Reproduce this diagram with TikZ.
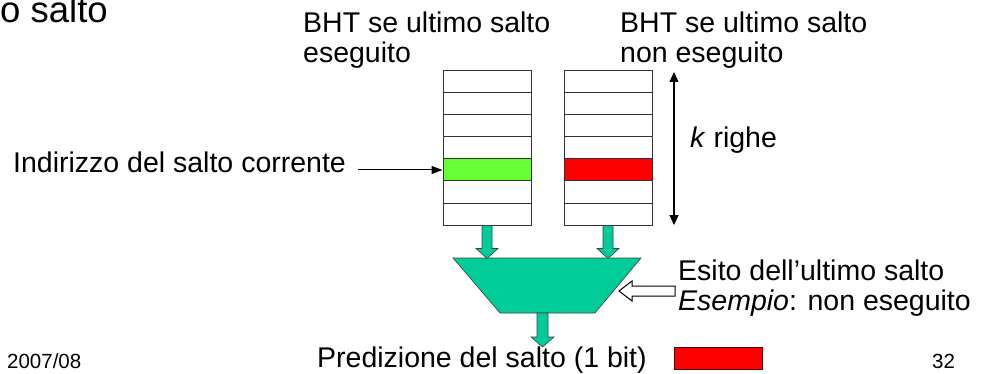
\documentclass[tikz,border=0pt]{standalone}
\usepackage{fontspec}
\setmainfont{Liberation Sans}
\usetikzlibrary{arrows.meta}

\definecolor{hitgreen}{RGB}{102,255,51}
\definecolor{missred}{RGB}{255,0,0}
\definecolor{muxteal}{RGB}{0,204,153}

\tikzset{
  bigtext/.style={font=\fontsize{28.5}{30}\selectfont, inner sep=0pt, anchor=base west, align=left},
  smalltext/.style={font=\fontsize{20.5}{24}\selectfont, inner sep=0pt, anchor=base west},
  bhtrow/.style={draw=black!80, line width=1pt, minimum width=88pt, minimum height=22pt, inner sep=0pt},
  fatarrow/.style={draw=black!75, line width=0.6pt, fill=muxteal},
}

\begin{document}
\begin{tikzpicture}[x=1pt, y=-1pt]
  \useasboundingbox (0,0) rectangle (987,374);

  % Texts (two-line nodes sit on the baseline of their last line)
  \node[bigtext, font=\fontsize{36.5}{40}\selectfont] (title) at (0,23) {o salto};
  \node[bigtext] (lefthead) at (303,63) {BHT se ultimo salto\\eseguito};
  \node[bigtext] (righthead) at (620,63) {BHT se ultimo salto\\non eseguito};
  \node[bigtext] (addr) at (13,173) {Indirizzo del salto corrente};
  \node[bigtext] (krows) at (690,148) {\textit{k} righe};
  \node[bigtext] (outcome) at (678,310) {Esito dell’ultimo salto\\\textit{Esempio}: non eseguito};
  \node[bigtext] (predtext) at (317,367) {Predizione del salto (1 bit)};
  \node[smalltext] (year) at (7,368) {2007/08};
  \node[smalltext] (page) at (932,368) {32};

  % BHT tables
  \foreach \i/\lf/\rf in {1/white/white, 2/white/white, 3/white/white, 4/white/white,
                          5/hitgreen/missred, 6/white/white, 7/white/white} {
    \node[bhtrow, fill=\lf] (L\i) at (487,60+22*\i) {};
    \node[bhtrow, fill=\rf] (R\i) at (608,60+22*\i) {};
  }

  % Current address
  \draw[-{Triangle[length=11pt,width=8pt]}, line width=1pt]
    ([xshift=12pt]addr.east |- L5.west) -- (L5.west);

  % k rows
  \coordinate (ktop) at (674,72);
  \coordinate (kbot) at (674,225);
  \draw[{Triangle[length=10pt,width=9pt]}-{Triangle[length=10pt,width=9pt]}, line width=1.2pt]
    (ktop) -- (kbot);

  % Multiplexer
  \coordinate (muxtl) at (453,258);
  \coordinate (muxtr) at (641,258);
  \coordinate (muxbr) at (595,313);
  \coordinate (muxbl) at (500,313);
  \draw[fatarrow] (muxtl) -- (muxtr) -- (muxbr) -- (muxbl) -- cycle;

  % Fat arrows
  \draw[fatarrow] ([xshift=-5pt]L7.south) -- ++(0,23) -- ++(-6,0) -- ++(11,10)
    -- ++(11,-10) -- ++(-6,0) -- ++(0,-23) -- cycle;
  \draw[fatarrow] ([xshift=-5pt]R7.south) -- ++(0,23) -- ++(-6,0) -- ++(11,10)
    -- ++(11,-10) -- ++(-6,0) -- ++(0,-23) -- cycle;
  \draw[fatarrow] (537,313) -- ++(0,24) -- ++(-6,0) -- ++(11.5,10)
    -- ++(11.5,-10) -- ++(-6,0) -- ++(0,-24) -- cycle;

  % Outcome arrow
  \draw[line width=1pt, fill=white] (619,291) -- (632,281) -- (632,286) -- (675,286)
    -- (675,296) -- (632,296) -- (632,301) -- cycle;

  % Prediction
  \node[draw=black!70!red, line width=1pt, fill=missred, minimum width=88pt,
        minimum height=22pt, inner sep=0pt] (pred) at (718,358) {};
\end{tikzpicture}
\end{document}
